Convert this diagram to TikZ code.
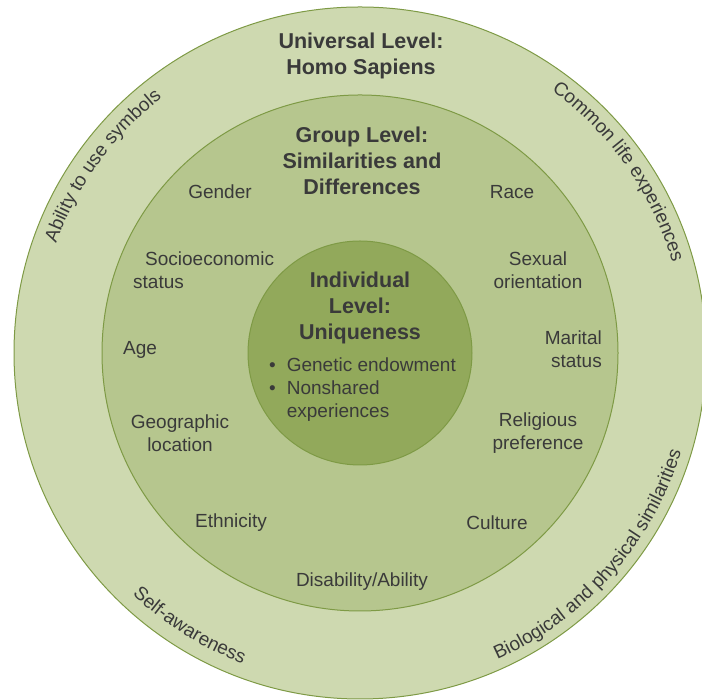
\documentclass[tikz,border=0pt]{standalone}
\usepackage{fontspec}
\setmainfont{Liberation Sans}
\usetikzlibrary{decorations.text}

\definecolor{ringout}{HTML}{CED9B0}
\definecolor{ringmid}{HTML}{B6C68E}
\definecolor{ringin}{HTML}{92A95B}
\definecolor{ringline}{HTML}{7E9A45}
\definecolor{txtgray}{HTML}{3A3A3A}

\begin{document}
\begin{tikzpicture}[x=1pt,y=1pt,
  ring/.style={draw=ringline,line width=1pt},
  level/.style={font=\fontsize{21.5}{26}\selectfont\bfseries,text=txtgray,align=center,inner sep=0pt},
  lbl/.style={font=\fontsize{19}{23}\selectfont,text=txtgray,align=center,inner sep=0pt},
  arctext/.style={decorate,decoration={text along path,text align=center,
    text={|\fontsize{19}{23}\selectfont\color{txtgray}|#1}}}]

  \useasboundingbox (0,0) rectangle (702,700);
  \coordinate (C) at (360,347);

  \filldraw[ring,fill=ringout] (C) circle[radius=346];
  \filldraw[ring,fill=ringmid] (C) circle[radius=258];
  \filldraw[ring,fill=ringin] (C) circle[radius=112];

  \path[arctext={Ability to use symbols}] (C) ++(184:323) arc[start angle=184,end angle=104,radius=323];
  \path[arctext={Common life experiences}] (C) ++(75:325) arc[start angle=75,end angle=-5,radius=325];
  \path[arctext={Self-awareness}] (C) ++(198:332) arc[start angle=198,end angle=278,radius=332];
  \path[arctext={Biological and physical similarities}] (C) ++(278:336) arc[start angle=278,end angle=359,radius=336];

  \node[level] (universal) at (361,644) {Universal Level:\\Homo Sapiens};
  \node[level] (group) at (362,539) {Group Level:\\Similarities and\\Differences};
  \node[level] (individual) at (360,392) {Individual\\Level:\\Uniqueness};
  \node[lbl,anchor=west] (traits) at (269,310) {%
    \begin{tabular}{@{}l@{\hspace{11pt}}l@{}}
      \textbullet & Genetic endowment\\
      \textbullet & Nonshared\\
                  & experiences
    \end{tabular}};

  \node[lbl] (gender) at (220,508) {Gender};
  \node[lbl] (race) at (512,508) {Race};
  \node[lbl,align=left,anchor=west] (socio) at (133,430) {\hspace*{12pt}Socioeconomic\\status};
  \node[lbl] (sexual) at (538,430) {Sexual\\orientation};
  \node[lbl] (age) at (140,350) {Age};
  \node[lbl,align=right,anchor=east] (marital) at (602,351) {Marital\\status};
  \node[lbl] (geo) at (180,267) {Geographic\\location};
  \node[lbl] (religion) at (538,267) {Religious\\preference};
  \node[lbl] (ethnicity) at (231,177) {Ethnicity};
  \node[lbl] (culture) at (497,177) {Culture};
  \node[lbl] (ability) at (362,118) {Disability/Ability};

\end{tikzpicture}
\end{document}
